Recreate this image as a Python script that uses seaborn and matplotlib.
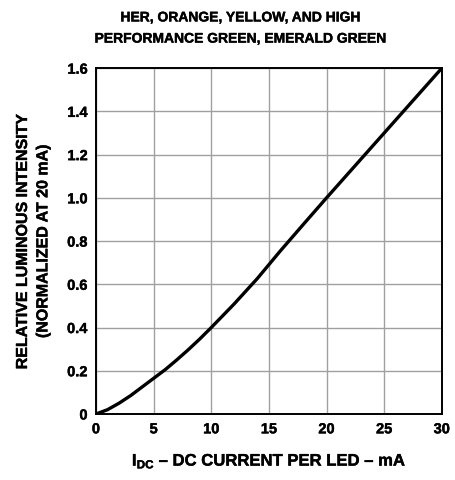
import numpy as np
import pandas as pd
import matplotlib.pyplot as plt
import matplotlib.patheffects as pe
import seaborn as sns

# Kurve
current_ma = [0, 1, 2, 3, 4, 5, 6, 7, 8, 9, 10, 12, 14, 16, 18, 20, 22, 24, 26, 28, 30]
rel_intensity = [0, 0.02, 0.05, 0.085, 0.125, 0.165, 0.205, 0.25, 0.297, 0.347, 0.40,
                 0.51, 0.627, 0.755, 0.878, 1.0, 1.12, 1.24, 1.36, 1.48, 1.6]
x_ticks = [0, 5, 10, 15, 20, 25, 30]
y_ticks = [0, 0.2, 0.4, 0.6, 0.8, 1.0, 1.2, 1.4, 1.6]
y_labels = ["0", "0.2", "0.4", "0.6", "0.8", "1.0", "1.2", "1.4", "1.6"]

sns.set_style("white")
plt.rcParams['font.family'] = ['Liberation Sans', 'DejaVu Sans']
plt.rcParams['mathtext.fontset'] = 'custom'
plt.rcParams['mathtext.bf'] = 'Liberation Sans:bold'
plt.rcParams['mathtext.rm'] = 'Liberation Sans:bold'
plt.rcParams['text.color'] = 'black'
plt.rcParams['axes.labelcolor'] = 'black'
plt.rcParams['xtick.color'] = 'black'
plt.rcParams['ytick.color'] = 'black'

# etwas dicker, wie die Originalschrift
heavy = [pe.withStroke(linewidth=0.3, foreground="black")]

df = pd.DataFrame({"current": current_ma, "intensity": rel_intensity})

fig = plt.figure(figsize=(4.55, 4.8), dpi=100)
ax = fig.add_axes([0.211, 0.1375, 0.76, 0.7205])

sns.lineplot(data=df, x="current", y="intensity", color="black", linewidth=2.4, ax=ax)

ax.set_xlim(0, 30)
ax.set_ylim(0, 1.6)
ax.set_xticks(x_ticks)
ax.set_yticks(y_ticks)
ax.set_yticklabels(y_labels)
ax.grid(True, color="#a0a0a0", linewidth=1)
ax.tick_params(length=0, labelsize=10.5, pad=6)
for lbl in ax.get_xticklabels() + ax.get_yticklabels():
    lbl.set_fontweight("bold")
    lbl.set_path_effects(heavy)
for sp in ax.spines.values():
    sp.set_color("black")
    sp.set_linewidth(1.4)

fig.text(240 / 455, 1 - 28 / 480, "HER, ORANGE, YELLOW, AND HIGH\nPERFORMANCE GREEN, EMERALD GREEN",
         ha="center", va="center", fontsize=10, fontweight="bold", linespacing=1.65,
         path_effects=heavy)
ax.set_ylabel("RELATIVE LUMINOUS INTENSITY\n(NORMALIZED AT 20 mA)",
              fontsize=11.5, fontweight="bold", labelpad=12, linespacing=1.45,
              path_effects=heavy)
ax.set_xlabel(r"I$_{\mathbf{DC}}$ – DC CURRENT PER LED – mA",
              fontsize=12, fontweight="bold", labelpad=11, path_effects=heavy)

plt.savefig("out.png", dpi=100)
